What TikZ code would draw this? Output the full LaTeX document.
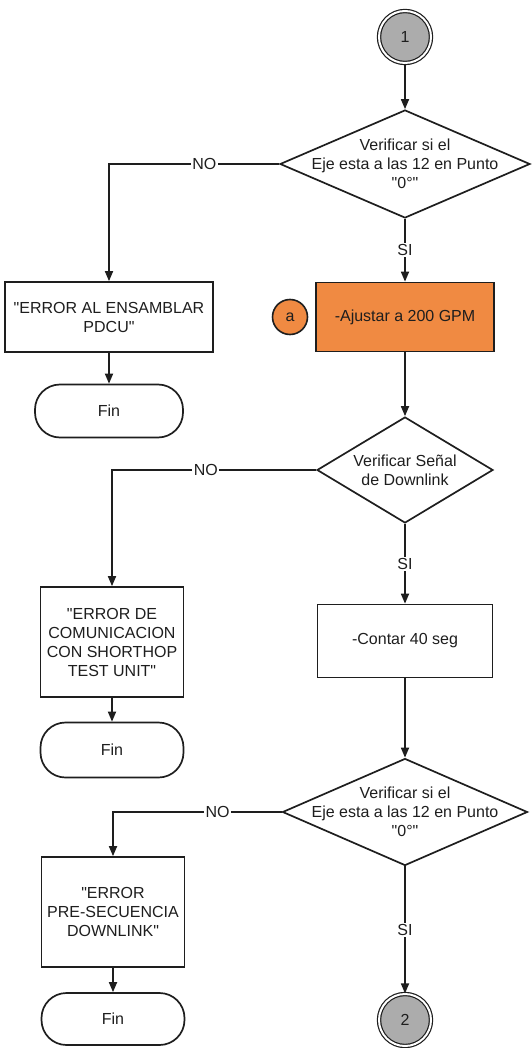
\documentclass[tikz,border=0pt]{standalone}
\usepackage{fontspec}
\setmainfont{Liberation Sans}
\usetikzlibrary{arrows.meta,shapes.geometric}
\definecolor{orangebox}{RGB}{240,138,66}
\definecolor{conngray}{RGB}{172,172,172}
\definecolor{inkc}{RGB}{30,30,30}
\newcommand{\qq}{\textquotedbl}
\begin{document}
\begin{tikzpicture}[x=1pt,y=-1pt,
  txt/.style={font=\fontsize{16}{19}\selectfont, align=center, text=inkc, inner sep=0pt},
  proc/.style={txt, rectangle, draw=inkc, line width=1.7pt, fill=white},
  term/.style={txt, rectangle, rounded corners=25pt, draw=inkc, line width=1.7pt, fill=white},
  dia/.style={diamond, draw=inkc, line width=1.7pt, fill=white, inner sep=0pt},
  conn/.style={txt, circle, draw=inkc, fill=conngray, double=white, double distance=2pt, line width=1.2pt, minimum size=52pt},
  arr/.style={draw=inkc, line width=1.7pt, -{Triangle[length=10pt,width=8pt]}},
  lbl/.style={txt, fill=white, inner sep=1.5pt}
]
\useasboundingbox (0,0) rectangle (531,1048);

% main column
\node[conn] (c1) at (405,37) {1};
\node[dia, minimum width=250pt, minimum height=108pt] (d1) at (405,164) {};
\node[txt] (d1t) at (d1) {Verificar si el\\Eje esta a las 12 en Punto\\\qq 0°\qq};
\node[proc, fill=orangebox, minimum width=178pt, minimum height=69pt] (ajus) at (405,317) {-Ajustar a 200 GPM};
\node[txt, circle, draw=inkc, line width=1.6pt, fill=orangebox, minimum size=35pt] (ca) at (290,317) {a};
\node[dia, minimum width=176pt, minimum height=106pt] (d2) at (405,470) {};
\node[txt] (d2t) at (d2) {Verificar Señal\\de Downlink};
\node[proc, minimum width=175pt, minimum height=73pt] (cont) at (405,641) {-Contar 40 seg};
\node[dia, minimum width=245pt, minimum height=107pt] (d3) at (405,812) {};
\node[txt] (d3t) at (d3) {Verificar si el\\Eje esta a las 12 en Punto\\\qq 0°\qq};
\node[conn] (c2) at (405,1020) {2};

% left column
\node[proc, minimum width=208pt, minimum height=70pt] (e1) at (109,317) {\qq ERROR AL ENSAMBLAR\\PDCU\qq};
\node[term, minimum width=148pt, minimum height=53pt] (f1) at (109,411) {Fin};
\node[proc, minimum width=143pt, minimum height=110pt] (e2) at (112,642) {\qq ERROR DE\\COMUNICACION\\CON SHORTHOP\\TEST UNIT\qq};
\node[term, minimum width=143pt, minimum height=55pt] (f2) at (112,750) {Fin};
\node[proc, minimum width=143pt, minimum height=110pt] (e3) at (113,912) {\qq ERROR\\PRE-SECUENCIA\\DOWNLINK\qq};
\node[term, minimum width=143pt, minimum height=52pt] (f3) at (113,1019) {Fin};

% connectors
\draw[arr] (c1.south) -- (d1.north);
\draw[arr] (d1.south) -- node[lbl, pos=0.5] {SI} (ajus.north);
\draw[arr] (d1.west) -| node[lbl, pos=0.22] {NO} (e1.north);
\draw[arr] (e1.south) -- (f1.north);
\draw[arr] (ajus.south) -- (d2.north);
\draw[arr] (d2.south) -- node[lbl, pos=0.5] {SI} (cont.north);
\draw[arr] (d2.west) -| node[lbl, pos=0.27] {NO} (e2.north);
\draw[arr] (e2.south) -- (f2.north);
\draw[arr] (cont.south) -- (d3.north);
\draw[arr] (d3.south) -- node[lbl, pos=0.5] {SI} (c2.north);
\draw[arr] (d3.west) -| node[lbl, pos=0.19] {NO} (e3.north);
\draw[arr] (e3.south) -- (f3.north);
\end{tikzpicture}
\end{document}
